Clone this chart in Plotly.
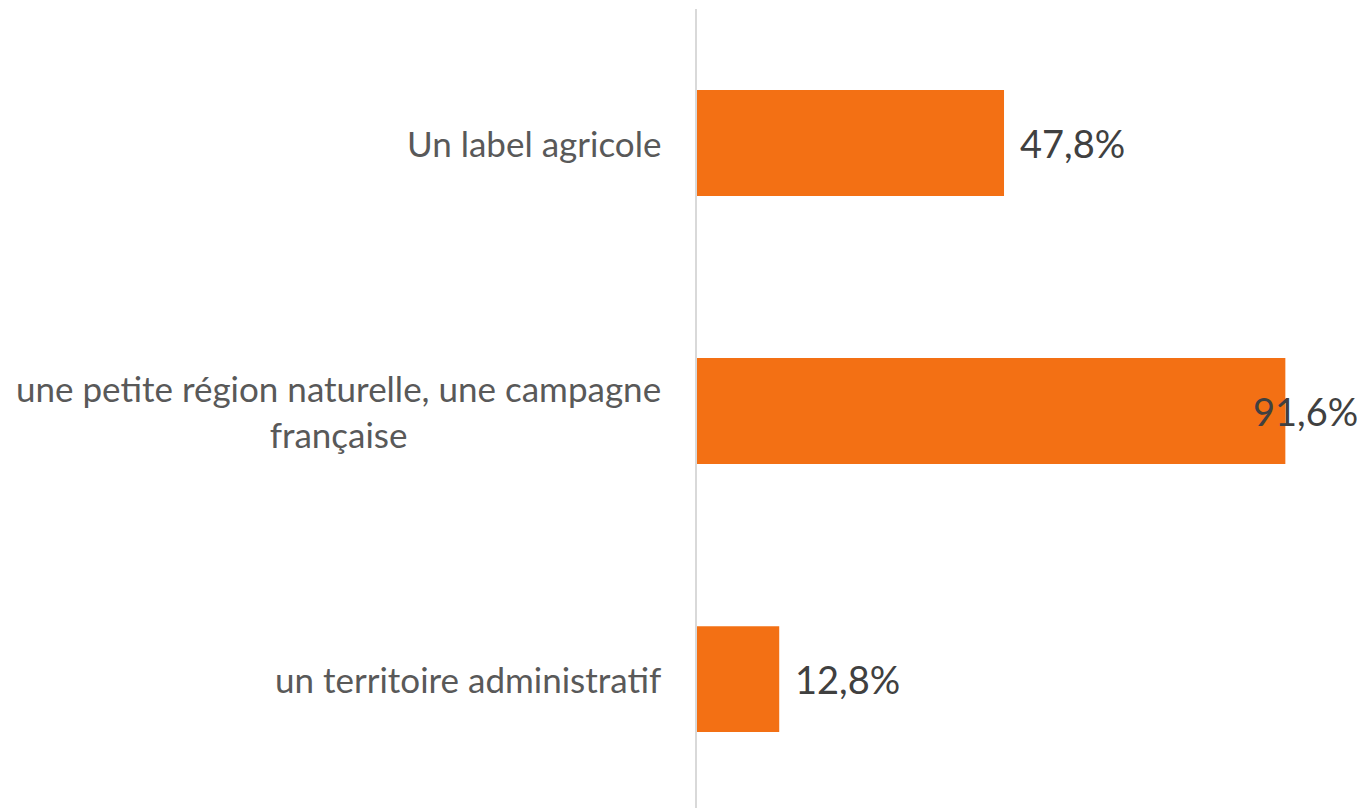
import plotly.graph_objects as go

categories = [
    "Un label agricole",
    "une petite région naturelle, une campagne<br>française",
    "un territoire administratif",
]
values = [47.8, 91.6, 12.8]
value_labels = ["47,8%", "91,6%", "12,8%"]
label_shift = [14, -34, 14]

positions = list(range(len(categories)))

fig = go.Figure()
fig.add_trace(
    go.Bar(
        y=positions,
        x=values,
        orientation="h",
        marker=dict(color="#F37014", line=dict(width=0)),
        width=0.395,
        hoverinfo="skip",
    )
)

for pos, val, txt, shift in zip(positions, values, value_labels, label_shift):
    fig.add_annotation(
        x=val, y=pos, text=txt, xanchor="left", xshift=shift, yshift=0,
        showarrow=False, font=dict(family="Lato", size=38, color="#404040"),
    )

for pos, cat in zip(positions, categories):
    fig.add_annotation(
        x=0, y=pos, text=cat, xanchor="right", xshift=-34, align="center",
        showarrow=False, font=dict(family="Lato", size=35, color="#595959"),
    )

# page body has an 8px margin, so shift the figure back by that much
fig.update_layout(
    width=1357,
    height=800,
    margin=dict(l=689, r=0, t=1, b=0),
    plot_bgcolor="white",
    paper_bgcolor="white",
    showlegend=False,
    xaxis=dict(range=[0, 104.0], visible=False),
    yaxis=dict(
        range=[2.481, -0.5],
        showticklabels=False,
        showgrid=False,
        zeroline=False,
        showline=True,
        linecolor="#D9D9D9",
        linewidth=2,
    ),
)

fig.write_html("out.html")
